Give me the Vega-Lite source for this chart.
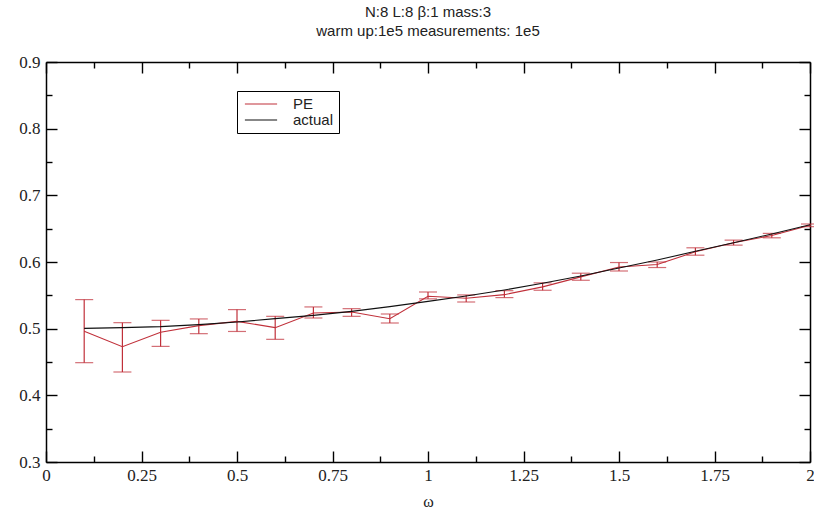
{
  "$schema": "https://vega.github.io/schema/vega-lite/v6.json",
  "width": 764,
  "height": 400,
  "autosize": "none",
  "padding": {"left": 46, "top": 62, "right": 4, "bottom": 53},
  "background": "white",
  "config": {
    "view": {"stroke": null},
    "axis": {
      "grid": false,
      "ticks": true,
      "domainColor": "black",
      "domainWidth": 1.5,
      "tickColor": "black",
      "tickWidth": 1.4,
      "labelColor": "#222",
      "labelFont": "Liberation Serif",
      "labelFontSize": 17,
      "labelOverlap": false,
      "labelFlush": false,
      "title": null
    }
  },
  "title": {
    "text": ["N:8 L:8 β:1 mass:3", "warm up:1e5 measurements: 1e5"],
    "font": "Liberation Sans",
    "fontSize": 15,
    "fontWeight": "normal",
    "color": "#222",
    "anchor": "middle",
    "lineHeight": 19,
    "offset": 14
  },
  "data": {
    "values": [
      {"omega": 0.1, "series": "PE", "value": 0.496, "lo": 0.449, "hi": 0.5436},
      {"omega": 0.2, "series": "PE", "value": 0.473, "lo": 0.435, "hi": 0.509},
      {"omega": 0.3, "series": "PE", "value": 0.4945, "lo": 0.4734, "hi": 0.5125},
      {"omega": 0.4, "series": "PE", "value": 0.5045, "lo": 0.4925, "hi": 0.5146},
      {"omega": 0.5, "series": "PE", "value": 0.511, "lo": 0.4958, "hi": 0.5286},
      {"omega": 0.6, "series": "PE", "value": 0.5015, "lo": 0.484, "hi": 0.5185},
      {"omega": 0.7, "series": "PE", "value": 0.5236, "lo": 0.516, "hi": 0.5326},
      {"omega": 0.8, "series": "PE", "value": 0.525, "lo": 0.5185, "hi": 0.530},
      {"omega": 0.9, "series": "PE", "value": 0.515, "lo": 0.5085, "hi": 0.522},
      {"omega": 1.0, "series": "PE", "value": 0.5486, "lo": 0.5447, "hi": 0.555},
      {"omega": 1.1, "series": "PE", "value": 0.5456, "lo": 0.540, "hi": 0.5506},
      {"omega": 1.2, "series": "PE", "value": 0.551, "lo": 0.5466, "hi": 0.557},
      {"omega": 1.3, "series": "PE", "value": 0.5627, "lo": 0.5576, "hi": 0.5687},
      {"omega": 1.4, "series": "PE", "value": 0.5777, "lo": 0.5726, "hi": 0.5832},
      {"omega": 1.5, "series": "PE", "value": 0.5925, "lo": 0.5865, "hi": 0.5992},
      {"omega": 1.6, "series": "PE", "value": 0.5962, "lo": 0.5917, "hi": 0.600},
      {"omega": 1.7, "series": "PE", "value": 0.6153, "lo": 0.6102, "hi": 0.6213},
      {"omega": 1.8, "series": "PE", "value": 0.6289, "lo": 0.6253, "hi": 0.6328},
      {"omega": 1.9, "series": "PE", "value": 0.6398, "lo": 0.6363, "hi": 0.6429},
      {"omega": 2.0, "series": "PE", "value": 0.655, "lo": 0.653, "hi": 0.657},
      {"omega": 0.1, "series": "actual", "value": 0.5005},
      {"omega": 0.2, "series": "actual", "value": 0.5015},
      {"omega": 0.3, "series": "actual", "value": 0.503},
      {"omega": 0.4, "series": "actual", "value": 0.506},
      {"omega": 0.5, "series": "actual", "value": 0.510},
      {"omega": 0.6, "series": "actual", "value": 0.515},
      {"omega": 0.7, "series": "actual", "value": 0.520},
      {"omega": 0.8, "series": "actual", "value": 0.526},
      {"omega": 0.9, "series": "actual", "value": 0.533},
      {"omega": 1.0, "series": "actual", "value": 0.541},
      {"omega": 1.1, "series": "actual", "value": 0.549},
      {"omega": 1.2, "series": "actual", "value": 0.558},
      {"omega": 1.3, "series": "actual", "value": 0.568},
      {"omega": 1.4, "series": "actual", "value": 0.579},
      {"omega": 1.5, "series": "actual", "value": 0.591},
      {"omega": 1.6, "series": "actual", "value": 0.603},
      {"omega": 1.7, "series": "actual", "value": 0.616},
      {"omega": 1.8, "series": "actual", "value": 0.629},
      {"omega": 1.9, "series": "actual", "value": 0.642},
      {"omega": 2.0, "series": "actual", "value": 0.656}
    ]
  },
  "layer": [
    {
      "transform": [{"filter": "datum.series === 'PE'"}],
      "mark": {"type": "rule", "color": "#c0303a", "strokeWidth": 1.2},
      "encoding": {
        "x": {
          "field": "omega", "type": "quantitative",
          "scale": {"domain": [0, 2], "nice": false, "zero": false},
          "axis": {
            "orient": "bottom",
            "title": "ω",
            "titleFont": "Liberation Serif",
            "titleFontSize": 16,
            "titleFontWeight": "normal",
            "titleColor": "#222",
            "titlePadding": 10,
            "labelFont": "Liberation Serif",
            "labelFontSize": 17,
            "values": [0, 0.25, 0.5, 0.75, 1, 1.25, 1.5, 1.75, 2],
            "format": ".2~f",
            "tickSize": -11,
            "labelPadding": 16
          }
        },
        "y": {
          "field": "lo", "type": "quantitative",
          "scale": {"domain": [0.3, 0.9], "nice": false, "zero": false},
          "axis": {
            "orient": "left",
            "title": null,
            "labelFont": "Liberation Serif",
            "labelFontSize": 17,
            "values": [0.3, 0.4, 0.5, 0.6, 0.7, 0.8, 0.9],
            "format": ".1f",
            "tickSize": -11,
            "labelPadding": 17
          }
        },
        "y2": {"field": "hi"}
      }
    },
    {
      "transform": [{"filter": "datum.series === 'PE'"}],
      "mark": {"type": "tick", "orient": "horizontal", "color": "#c0303a", "size": 18, "thickness": 1.2},
      "encoding": {
        "x": {
          "field": "omega", "type": "quantitative",
          "scale": {"domain": [0, 2], "nice": false, "zero": false},
          "axis": {
            "orient": "bottom", "title": null, "labels": false, "domain": false,
            "values": [0.125, 0.375, 0.625, 0.875, 1.125, 1.375, 1.625, 1.875],
            "tickSize": -6
          }
        },
        "y": {
          "field": "lo", "type": "quantitative",
          "scale": {"domain": [0.3, 0.9], "nice": false, "zero": false},
          "axis": {
            "orient": "left", "title": null, "labels": false, "domain": false,
            "values": [0.35, 0.45, 0.55, 0.65, 0.75, 0.85],
            "tickSize": -6
          }
        }
      }
    },
    {
      "transform": [{"filter": "datum.series === 'PE'"}],
      "mark": {"type": "tick", "orient": "horizontal", "color": "#c0303a", "size": 18, "thickness": 1.2},
      "encoding": {
        "x": {
          "field": "omega", "type": "quantitative",
          "scale": {"domain": [0, 2], "nice": false, "zero": false},
          "axis": {
            "orient": "top", "title": null, "labels": false,
            "values": [0, 0.25, 0.5, 0.75, 1, 1.25, 1.5, 1.75, 2],
            "tickSize": -11
          }
        },
        "y": {
          "field": "hi", "type": "quantitative",
          "scale": {"domain": [0.3, 0.9], "nice": false, "zero": false},
          "axis": {
            "orient": "right", "title": null, "labels": false,
            "values": [0.3, 0.4, 0.5, 0.6, 0.7, 0.8, 0.9],
            "tickSize": -11
          }
        }
      }
    },
    {
      "transform": [{"filter": "datum.series === 'PE'"}],
      "mark": {"type": "line", "strokeWidth": 1.1},
      "encoding": {
        "x": {
          "field": "omega", "type": "quantitative",
          "scale": {"domain": [0, 2], "nice": false, "zero": false},
          "axis": {
            "orient": "top", "title": null, "labels": false, "domain": false,
            "values": [0.125, 0.375, 0.625, 0.875, 1.125, 1.375, 1.625, 1.875],
            "tickSize": -6
          }
        },
        "y": {
          "field": "value", "type": "quantitative",
          "scale": {"domain": [0.3, 0.9], "nice": false, "zero": false},
          "axis": {
            "orient": "right", "title": null, "labels": false, "domain": false,
            "values": [0.35, 0.45, 0.55, 0.65, 0.75, 0.85],
            "tickSize": -6
          }
        },
        "color": {
          "field": "series",
          "type": "nominal",
          "scale": {"domain": ["PE", "actual"], "range": ["#c0303a", "#111111"]},
          "legend": {
            "orient": "none",
            "legendX": 191,
            "legendY": 29,
            "title": null,
            "strokeColor": "black",
            "fillColor": "white",
            "padding": 5,
            "symbolType": "M-2.3,0H2.3",
            "symbolSize": 196,
            "symbolOffset": 11,
            "symbolStrokeWidth": 1.2,
            "labelFont": "Liberation Sans",
            "labelFontSize": 15,
            "labelColor": "#222",
            "labelOffset": 24,
            "rowPadding": 0
          }
        }
      }
    },
    {
      "transform": [{"filter": "datum.series === 'actual'"}],
      "mark": {"type": "line", "strokeWidth": 1.1},
      "encoding": {
        "x": {"field": "omega", "type": "quantitative", "scale": {"domain": [0, 2], "nice": false, "zero": false}, "axis": null},
        "y": {"field": "value", "type": "quantitative", "scale": {"domain": [0.3, 0.9], "nice": false, "zero": false}, "axis": null},
        "color": {"field": "series", "type": "nominal", "scale": {"domain": ["PE", "actual"], "range": ["#c0303a", "#111111"]}}
      }
    }
  ],
  "resolve": {"axis": {"x": "independent", "y": "independent"}}
}
